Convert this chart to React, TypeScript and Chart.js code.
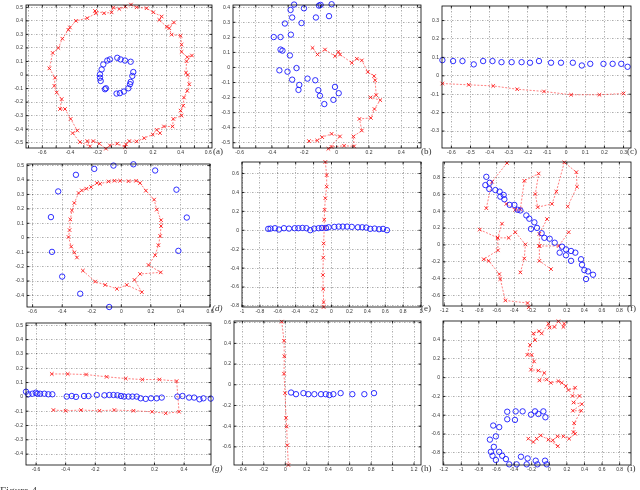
import React, { useEffect, useRef } from "react";
import { Chart, registerables } from "chart.js";
Chart.register(...registerables);

type P = [number, number];

// ---------- (a) ----------
const aBlue: P[] = [[-0.058,0.127],[-0.034,0.115],[-0.002,0.107],[0.039,0.098],[0.058,0.022],[0.051,-0.007],[0.039,-0.051],[0.034,-0.068],[0.022,-0.098],[-0.010,-0.122],[-0.039,-0.134],[-0.063,-0.137],[-0.140,-0.098],[-0.147,-0.105],[-0.178,-0.044],[-0.183,-0.020],[-0.183,0.005],[-0.171,0.041],[-0.159,0.078],[-0.130,0.107],[-0.111,0.115]];
const aRed: P[] = [[0.041,0.52],[0.082,0.50],[0.154,0.493],[0.202,0.463],[0.263,0.432],[0.246,0.407],[0.299,0.356],[0.352,0.388],[0.318,0.346],[0.335,0.298],[0.400,0.290],[0.407,0.224],[0.407,0.171],[0.448,0.132],[0.482,0.144],[0.443,0.102],[0.439,0.017],[0.451,0.0],[0.463,-0.068],[0.448,-0.117],[0.424,-0.166],[0.419,-0.227],[0.400,-0.263],[0.407,-0.300],[0.347,-0.324],[0.342,-0.380],[0.280,-0.380],[0.227,-0.405],[0.251,-0.429],[0.198,-0.439],[0.137,-0.466],[0.082,-0.490],[0.029,-0.488],[0.005,-0.512],[-0.002,-0.532],[-0.058,-0.507],[-0.111,-0.520],[-0.140,-0.544],[-0.188,-0.507],[-0.231,-0.488],[-0.275,-0.488],[-0.255,-0.527],[-0.328,-0.495],[-0.381,-0.429],[-0.347,-0.410],[-0.395,-0.324],[-0.436,-0.251],[-0.472,-0.251],[-0.460,-0.178],[-0.496,-0.129],[-0.513,-0.080],[-0.508,-0.020],[-0.549,0.049],[-0.525,0.163],[-0.484,0.200],[-0.455,0.268],[-0.412,0.334],[-0.400,0.351],[-0.357,0.400],[-0.275,0.420],[-0.212,0.456],[-0.219,0.473],[-0.154,0.456],[-0.099,0.463],[-0.087,0.498],[-0.043,0.488],[0.0,0.505]];
const aXTicks = [-0.7,-0.6,-0.5,-0.4,-0.3,-0.2,-0.1,0,0.1,0.2,0.3,0.4,0.5,0.6];
const aXLabels = [-0.6,-0.4,-0.2,0,0.2,0.4,0.6];
const aYTicks = [-0.5,-0.4,-0.3,-0.2,-0.1,0,0.1,0.2,0.3,0.4,0.5];

// ---------- (b) ----------
const bBlue: P[] = [[-0.263,0.418],[-0.202,0.393],[-0.109,0.411],[-0.099,0.416],[-0.031,0.42],[-0.285,0.382],[-0.275,0.332],[-0.128,0.332],[-0.047,0.341],[-0.320,0.292],[-0.217,0.295],[-0.389,0.202],[-0.347,0.202],[-0.283,0.218],[-0.347,0.119],[-0.335,0.112],[-0.289,0.080],[-0.354,-0.019],[-0.304,-0.028],[-0.248,-0.004],[-0.275,-0.081],[-0.180,-0.074],[-0.132,-0.085],[-0.231,-0.116],[-0.236,-0.149],[-0.113,-0.151],[-0.010,-0.129],[-0.103,-0.188],[0.013,-0.171],[-0.020,-0.215],[-0.076,-0.243]];
const bRed: P[] = [[-0.149,0.130],[-0.118,0.086],[-0.072,0.119],[-0.010,0.075],[0.011,0.104],[0.021,0.086],[0.094,0.031],[0.125,0.058],[0.156,0.047],[0.193,-0.030],[0.232,-0.057],[0.238,-0.085],[0.245,-0.184],[0.210,-0.199],[0.270,-0.217],[0.234,-0.276],[0.212,-0.335],[0.141,-0.342],[0.156,-0.419],[0.104,-0.458],[0.108,-0.524],[0.046,-0.520],[-0.031,-0.528],[-0.051,-0.540],[0.021,-0.458],[-0.031,-0.441],[-0.089,-0.463],[-0.120,-0.485],[-0.171,-0.489]];
const bXTicks = [-0.6,-0.5,-0.4,-0.3,-0.2,-0.1,0,0.1,0.2,0.3,0.4,0.5];
const bXLabels = [-0.6,-0.4,-0.2,0,0.2,0.4];
const bYTicks = [-0.5,-0.4,-0.3,-0.2,-0.1,0,0.1,0.2,0.3,0.4];

// ---------- (c) ----------
const cBlue: P[] = [[-0.647,0.085],[-0.591,0.080],[-0.542,0.080],[-0.483,0.062],[-0.434,0.080],[-0.385,0.080],[-0.338,0.074],[-0.285,0.074],[-0.233,0.074],[-0.189,0.071],[-0.142,0.080],[-0.079,0.071],[-0.027,0.071],[0.035,0.071],[0.082,0.056],[0.126,0.065],[0.195,0.065],[0.243,0.065],[0.288,0.065],[0.321,0.049]];
const cRed: P[] = [[-0.647,-0.042],[-0.509,-0.049],[-0.381,-0.055],[-0.256,-0.073],[-0.116,-0.085],[0.026,-0.103],[0.174,-0.103],[0.300,-0.096]];
const cXTicks = [-0.6,-0.5,-0.4,-0.3,-0.2,-0.1,0,0.1,0.2,0.3];
const cYTicks = [-0.3,-0.2,-0.1,0,0.1,0.2,0.3];

// ---------- (d) ----------
const dBlue: P[] = [[-0.053,0.500],[0.082,0.509],[0.229,0.466],[-0.183,0.477],[-0.307,0.436],[-0.427,0.321],[0.373,0.333],[-0.476,0.143],[0.443,0.140],[-0.469,-0.098],[0.386,-0.091],[-0.400,-0.269],[-0.278,-0.388],[-0.082,-0.480]];
const dRed: P[] = [[-0.300,-0.137],[-0.318,-0.102],[-0.339,-0.061],[-0.357,0.005],[-0.350,0.053],[-0.345,0.127],[-0.334,0.189],[-0.318,0.241],[-0.289,0.310],[-0.267,0.328],[-0.237,0.340],[-0.204,0.351],[-0.165,0.379],[-0.143,0.374],[-0.086,0.390],[-0.046,0.395],[-0.008,0.395],[0.049,0.392],[0.100,0.395],[0.127,0.379],[0.166,0.326],[0.222,0.264],[0.240,0.195],[0.269,0.122],[0.269,0.081],[0.263,0.012],[0.251,-0.052],[0.229,-0.121],[0.184,-0.189],[0.267,-0.240],[0.127,-0.251],[0.089,-0.292],[0.139,-0.377],[0.037,-0.327],[-0.030,-0.354],[-0.109,-0.327],[-0.177,-0.304],[-0.260,-0.228]];
const dXTicks = [-0.6,-0.4,-0.2,0,0.2,0.4,0.6];
const dYTicks = [-0.4,-0.3,-0.2,-0.1,0,0.1,0.2,0.3,0.4,0.5];

// ---------- (e) ----------
const eBlue: P[] = [[-0.707,0.015],[-0.681,0.018],[-0.632,0.022],[-0.587,0.008],[-0.531,0.022],[-0.475,0.018],[-0.411,0.022],[-0.370,0.022],[-0.325,0.025],[-0.280,0.022],[-0.238,0.001],[-0.193,0.018],[-0.144,0.022],[-0.107,0.025],[-0.062,0.025],[-0.032,0.032],[0.032,0.036],[0.081,0.039],[0.126,0.039],[0.174,0.039],[0.227,0.036],[0.295,0.032],[0.343,0.032],[0.388,0.029],[0.433,0.015],[0.482,0.018],[0.531,0.011],[0.576,0.015],[0.620,0.001]];
const eRed: P[] = [[-0.069,0.722],[-0.054,0.583],[-0.054,0.461],[-0.069,0.339],[-0.077,0.217],[-0.081,0.112],[-0.081,0.025],[-0.088,-0.139],[-0.092,-0.289],[-0.096,-0.473],[-0.092,-0.620],[-0.088,-0.759],[-0.088,-0.811]];
const eXTicks = [-1,-0.8,-0.6,-0.4,-0.2,0,0.2,0.4,0.6,0.8,1];
const eYTicks = [-0.8,-0.6,-0.4,-0.2,0,0.2,0.4,0.6];

// ---------- (f) ----------
const fBlue: P[] = [[-0.720,0.808],[-0.731,0.710],[-0.682,0.737],[-0.686,0.663],[-0.617,0.651],[-0.568,0.632],[-0.522,0.593],[-0.560,0.573],[-0.514,0.542],[-0.453,0.475],[-0.400,0.475],[-0.362,0.417],[-0.331,0.409],[-0.263,0.350],[-0.229,0.311],[-0.171,0.268],[-0.141,0.202],[-0.210,0.190],[-0.088,0.139],[-0.057,0.084],[0.004,0.073],[0.061,0.026],[0.145,-0.021],[0.118,-0.092],[0.190,-0.053],[0.248,-0.072],[0.190,-0.123],[0.297,-0.092],[0.362,-0.170],[0.248,-0.189],[0.373,-0.236],[0.400,-0.299],[0.442,-0.315],[0.499,-0.354],[0.419,-0.405]];
const fRed1: P[] = [[-0.484,0.972],[-0.655,0.749],[-0.720,0.436]];
const fRed2: P[] = [[-0.491,0.487],[-0.389,0.417],[-0.331,0.425],[-0.286,0.761],[-0.122,0.847],[-0.160,0.604],[-0.133,0.448],[0.030,0.487],[0.080,0.632],[0.171,0.980],[0.309,0.863],[0.316,0.690],[0.210,0.456]];
const fRed3: P[] = [[-0.027,0.307],[-0.114,0.131],[-0.114,-0.013],[0.107,-0.013],[0.221,0.151]];
const fRed4: P[] = [[-0.114,-0.013],[-0.114,-0.189],[0.019,-0.287]];
const fRed5: P[] = [[-0.541,0.252],[-0.590,0.084],[-0.465,0.084],[-0.389,0.151],[-0.274,0.006],[-0.286,-0.162],[-0.331,-0.326]];
const fRed6: P[] = [[-0.796,0.182],[-0.590,0.084],[-0.587,-0.064],[-0.750,-0.170],[-0.693,-0.189],[-0.571,-0.346],[-0.560,-0.405],[-0.503,-0.659],[-0.248,-0.690],[-0.236,-0.740]];
const fXTicks = [-1.2,-1,-0.8,-0.6,-0.4,-0.2,0,0.2,0.4,0.6,0.8];
const fYTicks = [-0.6,-0.4,-0.2,0,0.2,0.4,0.6,0.8];

// ---------- (g) ----------
const gBlue: P[] = [[-0.668,0.036],[-0.652,0.018],[-0.625,0.022],[-0.602,0.029],[-0.591,0.022],[-0.573,0.022],[-0.544,0.022],[-0.517,0.018],[-0.490,0.018],[-0.393,0.002],[-0.359,0.006],[-0.330,0.0],[-0.276,0.006],[-0.246,0.006],[-0.190,0.013],[-0.138,0.011],[-0.105,0.013],[-0.077,0.013],[-0.050,0.011],[-0.026,0.006],[-0.005,0.002],[0.024,0.002],[0.051,0.002],[0.080,0.002],[0.107,-0.010],[0.141,-0.014],[0.177,-0.010],[0.215,-0.010],[0.249,-0.005],[0.355,0.002],[0.389,0.006],[0.434,-0.005],[0.468,-0.005],[0.504,-0.017],[0.531,-0.010],[0.580,-0.012]];
const gRed: P[] = [[-0.494,0.160],[-0.386,0.160],[-0.262,0.156],[-0.123,0.140],[0.006,0.128],[0.118,0.121],[0.233,0.121],[0.350,0.110],[0.366,-0.104],[0.276,-0.115],[0.184,-0.104],[0.058,-0.097],[-0.071,-0.092],[-0.172,-0.097],[-0.296,-0.092],[-0.400,-0.097],[-0.483,-0.092]];
const gXTicks = [-0.6,-0.4,-0.2,0,0.2,0.4];
const gYTicks = [-0.4,-0.3,-0.2,-0.1,0,0.1,0.2,0.3,0.4,0.5];

// ---------- (h) ----------
const hBlue: P[] = [[0.054,-0.075],[0.100,-0.091],[0.169,-0.081],[0.215,-0.091],[0.271,-0.091],[0.333,-0.091],[0.377,-0.091],[0.411,-0.100],[0.448,-0.091],[0.516,-0.081],[0.625,-0.091],[0.737,-0.091],[0.827,-0.081]];
const hRed: P[] = [[-0.033,0.610],[-0.012,0.425],[-0.009,0.275],[-0.012,0.107],[-0.002,-0.081],[0.007,-0.320],[0.013,-0.403],[0.019,-0.584],[0.029,-0.775]];
const hXTicks = [-0.4,-0.2,0,0.2,0.4,0.6,0.8,1,1.2];
const hYTicks = [-0.6,-0.4,-0.2,0,0.2,0.4,0.6];

// ---------- (i) ----------
const iBlue: P[] = [[-0.478,-0.363],[-0.382,-0.359],[-0.303,-0.359],[-0.162,-0.359],[-0.067,-0.359],[-0.208,-0.394],[-0.124,-0.387],[-0.044,-0.422],[-0.478,-0.443],[-0.390,-0.450],[-0.637,-0.510],[-0.569,-0.527],[-0.607,-0.625],[-0.675,-0.660],[-0.630,-0.737],[-0.664,-0.790],[-0.569,-0.790],[-0.645,-0.832],[-0.535,-0.832],[-0.607,-0.877],[-0.493,-0.867],[-0.455,-0.923],[-0.371,-0.923],[-0.257,-0.923],[-0.322,-0.842],[-0.246,-0.860],[-0.154,-0.884],[-0.048,-0.884],[-0.029,-0.923],[-0.135,-0.923]];
const iRed: P[] = [[0.169,0.575],[0.161,0.540],[0.104,0.600],[0.059,0.540],[0.002,0.533],[-0.010,0.575],[-0.086,0.470],[-0.116,0.494],[-0.181,0.470],[-0.162,0.400],[-0.219,0.348],[-0.249,0.243],[-0.200,0.243],[-0.173,0.173],[-0.208,0.085],[-0.124,0.075],[-0.056,0.050],[-0.113,-0.030],[-0.029,-0.020],[0.017,-0.055],[0.104,-0.037],[0.142,-0.055],[0.188,-0.090],[0.218,-0.132],[0.294,-0.107],[0.264,-0.195],[0.344,-0.195],[0.275,-0.265],[0.370,-0.282],[0.268,-0.352],[0.363,-0.352],[0.283,-0.485],[0.275,-0.580],[0.294,-0.597],[0.226,-0.650],[0.161,-0.625],[0.093,-0.625],[0.040,-0.667],[0.097,-0.730],[-0.010,-0.660],[-0.097,-0.615],[-0.143,-0.650],[-0.181,-0.685],[-0.238,-0.650]];
const iXTicks = [-1.2,-1,-0.8,-0.6,-0.4,-0.2,0,0.2,0.4,0.6,0.8];
const iYTicks = [-0.8,-0.6,-0.4,-0.2,0,0.2,0.4];

type PanelDef = {
  tag: string;
  italic?: boolean;
  box: [number, number, number, number]; // plot area left, top, right, bottom (px)
  tagPos: [number, number];
  xLim: [number, number];
  yLim: [number, number];
  xTicks: number[];
  xLabels: number[];
  yTicks: number[];
  yLabels: number[];
  blue: P[];
  red: P[][];
};

const panels: PanelDef[] = [
  { tag: "(a)", box: [26, 3, 212, 148], tagPos: [213, 146], xLim: [-0.718, 0.627], yLim: [-0.539, 0.517], xTicks: aXTicks, xLabels: aXLabels, yTicks: aYTicks, yLabels: aYTicks, blue: aBlue, red: [aRed] },
  { tag: "(b)", box: [233, 3, 421, 148], tagPos: [421, 146], xLim: [-0.641, 0.522], yLim: [-0.535, 0.415], xTicks: bXTicks, xLabels: bXLabels, yTicks: bYTicks, yLabels: bYTicks, blue: bBlue, red: [bRed] },
  { tag: "(c)", box: [442, 4, 631, 148], tagPos: [627, 146], xLim: [-0.649, 0.339], yLim: [-0.392, 0.379], xTicks: cXTicks, xLabels: cXTicks, yTicks: cYTicks, yLabels: cYTicks, blue: cBlue, red: [cRed] },
  { tag: "(d)", italic: true, box: [27, 162, 210, 307], tagPos: [212, 303], xLim: [-0.638, 0.6], yLim: [-0.48, 0.511], xTicks: dXTicks, xLabels: dXTicks, yTicks: dYTicks, yLabels: dYTicks, blue: dBlue, red: [dRed] },
  { tag: "(e)", box: [242, 160, 421, 307], tagPos: [421, 303], xLim: [-1, 1], yLim: [-0.811, 0.722], xTicks: eXTicks, xLabels: eXTicks, yTicks: eYTicks, yLabels: eYTicks, blue: eBlue, red: [eRed] },
  { tag: "(f)", box: [443, 160, 631, 306], tagPos: [627, 303], xLim: [-1.215, 0.933], yLim: [-0.725, 0.984], xTicks: fXTicks, xLabels: fXTicks, yTicks: fYTicks, yLabels: fYTicks, blue: fBlue, red: [fRed1, fRed2, fRed3, fRed4, fRed5, fRed6] },
  { tag: "(g)", italic: true, box: [26, 321, 211, 465], tagPos: [212, 463], xLim: [-0.668, 0.582], yLim: [-0.476, 0.516], xTicks: gXTicks, xLabels: gXTicks, yTicks: gYTicks, yLabels: gYTicks, blue: gBlue, red: [gRed] },
  { tag: "(h)", box: [234, 319, 421, 465], tagPos: [421, 463], xLim: [-0.478, 1.265], yLim: [-0.775, 0.616], xTicks: hXTicks, xLabels: hXTicks, yTicks: hYTicks, yLabels: hYTicks, blue: hBlue, red: [hRed] },
  { tag: "(i)", box: [443, 319, 631, 465], tagPos: [627, 463], xLim: [-1.208, 0.929], yLim: [-0.930, 0.603], xTicks: iXTicks, xLabels: iXTicks, yTicks: iYTicks, yLabels: iYTicks, blue: iBlue, red: [iRed] },
];

const YW = 20, PT = 4, PR = 7, XH = 11;

const fmt = (v: number) => String(Math.round(v * 100) / 100);
const has = (arr: number[], v: number) => arr.some((l) => Math.abs(l - v) < 1e-9);

const framePlugin = {
  id: "frame",
  afterDraw(chart: any) {
    const { ctx, chartArea } = chart;
    const { left, top, right, bottom } = chartArea;
    const xs = chart.scales.x, ys = chart.scales.y;
    ctx.save();
    ctx.strokeStyle = "#000";
    ctx.lineWidth = 0.8;
    ctx.setLineDash([]);
    ctx.strokeRect(left, top, right - left, bottom - top);
    ctx.beginPath();
    xs.ticks.forEach((t: any) => {
      const px = xs.getPixelForValue(t.value);
      ctx.moveTo(px, bottom); ctx.lineTo(px, bottom - 2.5);
      ctx.moveTo(px, top); ctx.lineTo(px, top + 2.5);
    });
    ys.ticks.forEach((t: any) => {
      const py = ys.getPixelForValue(t.value);
      ctx.moveTo(left, py); ctx.lineTo(left + 2.5, py);
      ctx.moveTo(right, py); ctx.lineTo(right - 2.5, py);
    });
    ctx.stroke();
    ctx.restore();
  },
};

function Panel({ def }: { def: PanelDef }) {
  const ref = useRef<HTMLCanvasElement | null>(null);
  const [l, t, r, b] = def.box;
  const W = YW + (r - l) + PR;
  const H = PT + (b - t) + XH;
  useEffect(() => {
    if (!ref.current) return;
    const toXY = (arr: P[]) => arr.map(([x, y]) => ({ x, y }));
    const datasets: any[] = [
      {
        data: toXY(def.blue),
        showLine: false,
        pointStyle: "circle",
        pointRadius: 2.7,
        pointBorderWidth: 0.9,
        pointBorderColor: "#1a1aff",
        pointBackgroundColor: "rgba(0,0,0,0)",
        clip: false,
      },
      ...def.red.map((seg) => ({
        data: toXY(seg),
        showLine: true,
        borderColor: "rgba(255,40,40,0.75)",
        borderWidth: 0.8,
        borderDash: [2, 1.5],
        pointStyle: "crossRot",
        pointRadius: 2.5,
        pointBorderWidth: 0.9,
        pointBorderColor: "#ff1a1a",
        clip: false,
      })),
    ];
    const tickFont = { size: 5, family: "Liberation Sans" };
    const chart = new Chart(ref.current, {
      type: "scatter",
      data: { datasets },
      plugins: [framePlugin],
      options: {
        animation: false,
        responsive: false,
        maintainAspectRatio: false,
        events: [],
        layout: { padding: { top: PT, right: PR, left: 0, bottom: 0 } },
        plugins: { legend: { display: false }, tooltip: { enabled: false } },
        scales: {
          x: {
            type: "linear",
            min: def.xLim[0],
            max: def.xLim[1],
            afterBuildTicks: (s: any) => { s.ticks = def.xTicks.map((v) => ({ value: v })); },
            afterFit: (s: any) => { s.height = XH; },
            ticks: {
              autoSkip: false, maxRotation: 0, minRotation: 0, padding: 2,
              font: tickFont, color: "#333",
              callback: (v: any) => (has(def.xLabels, Number(v)) ? fmt(Number(v)) : ""),
            },
            grid: { drawTicks: false, color: "rgba(0,0,0,0.55)", lineWidth: 0.6 },
            border: { display: false, dash: [1.5, 1.5, 0.5, 1.5] },
          },
          y: {
            type: "linear",
            min: def.yLim[0],
            max: def.yLim[1],
            afterBuildTicks: (s: any) => { s.ticks = def.yTicks.map((v) => ({ value: v })); },
            afterFit: (s: any) => { s.width = YW; },
            ticks: {
              autoSkip: false, padding: 3,
              font: tickFont, color: "#333",
              callback: (v: any) => (has(def.yLabels, Number(v)) ? fmt(Number(v)) : ""),
            },
            grid: { drawTicks: false, color: "rgba(0,0,0,0.55)", lineWidth: 0.6 },
            border: { display: false, dash: [1.5, 1.5, 0.5, 1.5] },
          },
        },
      } as any,
    });
    return () => chart.destroy();
  }, [def]);
  return (
    <>
      <canvas
        ref={ref}
        width={W}
        height={H}
        style={{ position: "absolute", left: l - YW, top: t - PT, width: W, height: H }}
      />
      <div
        style={{
          position: "absolute",
          left: def.tagPos[0],
          top: def.tagPos[1],
          font: `${def.italic ? "italic " : ""}9px "Liberation Serif", serif`,
          color: "#333",
          lineHeight: "10px",
          whiteSpace: "nowrap",
        }}
      >
        {def.tag}
      </div>
    </>
  );
}

export default function App() {
  return (
    <div
      style={{
        position: "fixed",
        left: 0,
        top: 0,
        width: 640,
        height: 490,
        overflow: "hidden",
        background: "#fff",
      }}
    >
      {panels.map((p) => (
        <Panel key={p.tag} def={p} />
      ))}
      <div
        style={{
          position: "absolute",
          left: 0,
          top: 484,
          font: '11px "Liberation Serif", serif',
          color: "#444",
          whiteSpace: "nowrap",
        }}
      >
        Figure 4.
      </div>
    </div>
  );
}
